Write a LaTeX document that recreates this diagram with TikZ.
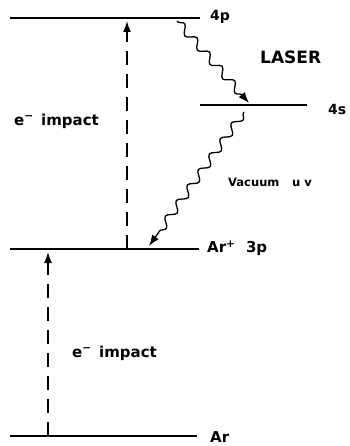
\documentclass[tikz,border=0pt]{standalone}
\usepackage{fontspec}
\setmainfont{DejaVu Sans}
\usetikzlibrary{arrows.meta,decorations.pathmorphing}
\newcommand{\elec}{e\textsuperscript{\char"2212}}
\begin{document}
\begin{tikzpicture}[x=1pt,y=-1pt,
  level/.style={line width=1.6pt},
  lbl/.style={inner sep=0pt, anchor=west},
  exc/.style={line width=1.4pt, dash pattern=on 14pt off 9pt, -{Latex[length=11pt,width=8pt]}},
  photon/.style={line width=1.3pt, -{Latex[length=11pt,width=8pt]},
    decorate, decoration={snake, segment length=19pt, amplitude=4pt, pre length=1pt, post length=10pt}}]
\useasboundingbox (0,0) rectangle (349,446);
% levels
\coordinate (p4a) at (10,18);  \coordinate (p4b) at (200,18);
\coordinate (s4a) at (200,105); \coordinate (s4b) at (307,105);
\coordinate (ipa) at (10,249); \coordinate (ipb) at (199,249);
\coordinate (ara) at (10,436); \coordinate (arb) at (197,436);
\draw[level] (p4a) -- (p4b);
\draw[level] (s4a) -- (s4b);
\draw[level] (ipa) -- (ipb);
\draw[level] (ara) -- (arb);
% labels
\node[lbl, font=\fontsize{14}{14}\selectfont\bfseries] (l4p) at (210,17) {4p};
\node[lbl, font=\fontsize{14}{14}\selectfont\bfseries] (l4s) at (328,109) {4s};
\node[lbl, font=\fontsize{15}{15}\selectfont\bfseries] (lion) at (207,248) {Ar\textsuperscript{+}\hspace{0.7em}3p};
\node[lbl, font=\fontsize{15}{15}\selectfont\bfseries] (lar) at (210,437) {Ar};
\node[lbl, font=\fontsize{17}{17}\selectfont\bfseries] (laser) at (260,57) {LASER};
\node[lbl, font=\fontsize{15}{15}\selectfont\bfseries] (ei1) at (14,121) {\elec\hspace{0.5em}impact};
\node[lbl, font=\fontsize{11.5}{12}\selectfont\bfseries] (vuv) at (228,182) {Vacuum\hspace{1.1em}u v};
\node[lbl, font=\fontsize{15}{15}\selectfont\bfseries] (ei2) at (72,353) {\elec\hspace{0.5em}impact};
% excitation arrows
\coordinate (e1s) at (127,249); \coordinate (e1e) at (127,21);
\coordinate (e2s) at (48,436); \coordinate (e2e) at (48,252);
\draw[exc] (e1s) -- (e1e);
\draw[exc] (e2s) -- (e2e);
% photons
\coordinate (w1s) at (177,21); \coordinate (w1e) at (249,103);
\coordinate (w2s) at (244,112); \coordinate (w2e) at (149,246);
\draw[photon] (w1s) -- (w1e);
\draw[photon] (w2s) -- (w2e);
\end{tikzpicture}
\end{document}
